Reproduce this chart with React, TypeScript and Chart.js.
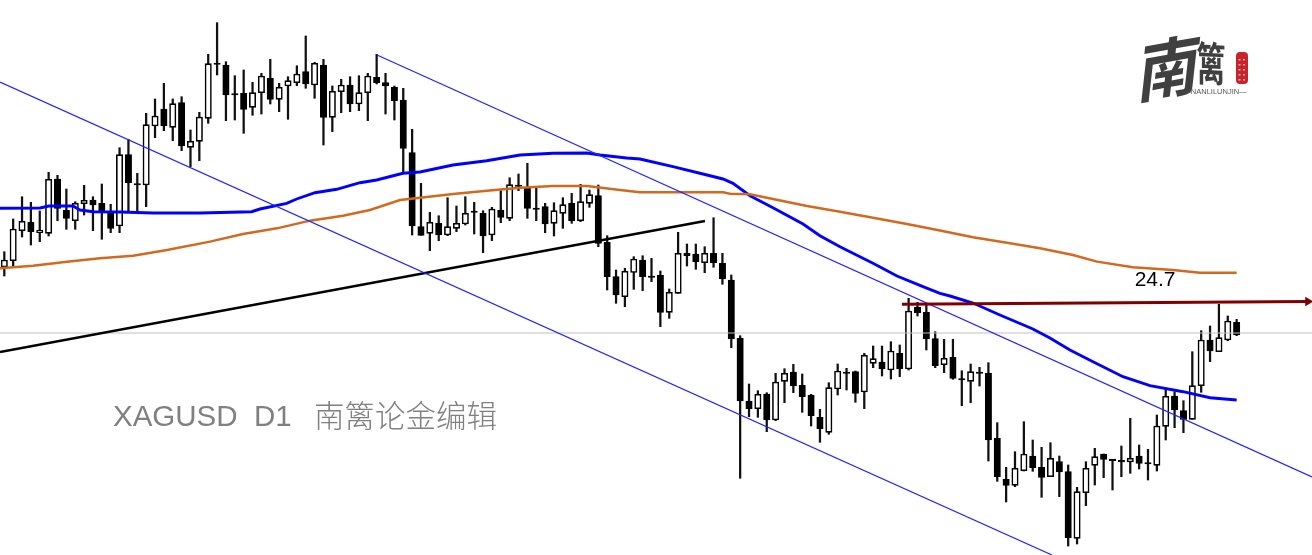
import React, { useEffect, useRef } from "react";
import { Chart, registerables } from "chart.js";

Chart.register(...registerables);

// Daily XAGUSD candles, one entry per session
const opens = [
  25.04,25.103,25.403,25.487,25.383,25.377,25.92,25.61,25.503,25.673,
  25.71,25.677,25.583,25.45,26.163,25.875,25.86,26.45,26.62,26.437,
  26.683,26.237,26.297,26.527,27.08,27.06,26.775,26.777,26.637,26.783,
  26.927,26.717,26.85,26.883,26.993,26.86,27.06,26.537,26.793,26.86,
  26.67,26.783,26.937,26.883,26.837,26.71,26.183,25.443,25.377,25.477,
  25.36,25.427,25.47,25.6,25.577,25.36,25.61,25.527,25.86,25.827,
  25.63,25.643,25.477,25.577,25.677,25.503,25.677,25.753,25.287,24.943,
  24.743,24.985,25.11,24.95,24.957,24.587,24.777,25.177,25.17,25.083,
  25.177,25.077,24.91,24.327,23.7,23.623,23.77,23.51,23.897,23.99,
  23.857,23.757,23.537,23.387,23.82,23.99,23.993,23.79,24.077,24.09,
  24.01,24.177,24.02,24.637,24.587,24.323,24.063,24.137,23.925,23.897,
  23.99,23.98,23.327,22.917,22.857,23.003,23.15,23.037,22.943,23.093,
  22.993,22.327,22.783,23.057,23.17,23.118,23.107,23.09,23.15,23.085,
  23.057,23.447,23.75,23.603,23.517,23.853,24.31,24.193,24.31,24.487,
];
const highs = [
  25.193,25.52,25.743,25.687,25.6,25.987,25.957,25.82,25.693,25.857,
  25.743,25.87,25.667,26.233,26.317,25.977,26.577,26.72,26.877,26.72,
  26.743,26.41,26.587,27.167,27.483,27.093,26.953,27.01,26.887,26.977,
  27.117,26.877,26.943,27.053,27.35,27.087,27.117,26.85,26.917,26.943,
  26.953,26.977,27.167,26.977,26.85,26.827,26.417,25.877,25.587,25.553,
  25.733,25.65,25.743,25.687,25.603,25.637,25.803,25.933,25.97,26.077,
  25.827,25.677,25.683,25.733,25.777,25.867,25.81,25.86,25.353,25.01,
  25.027,25.143,25.153,25.127,25.0,24.82,25.387,25.27,25.27,25.243,
  25.533,25.177,24.96,24.353,23.87,23.803,23.783,23.977,24.023,24.067,
  23.97,23.767,23.617,23.883,24.07,24.027,24.0,24.177,24.25,24.25,
  24.293,24.26,24.727,24.687,24.67,24.393,24.317,24.317,24.003,24.07,
  24.037,24.083,23.483,23.037,23.193,23.493,23.31,23.237,23.283,23.15,
  23.06,22.837,23.093,23.227,23.17,23.117,23.25,23.527,23.26,23.217,
  23.56,23.817,23.793,23.703,24.193,24.403,24.45,24.667,24.55,24.517,
];
const lows = [
  24.95,25.04,25.34,25.26,25.293,25.35,25.503,25.417,25.417,25.56,
  25.403,25.317,25.383,25.383,25.583,25.593,25.643,26.333,26.403,26.303,
  26.203,26.043,26.103,26.477,26.96,26.503,26.51,26.377,26.557,26.57,
  26.67,26.593,26.517,26.853,26.827,26.727,26.26,26.393,26.583,26.593,
  26.603,26.503,26.87,26.57,26.51,25.977,25.36,25.357,25.203,25.303,
  25.353,25.393,25.46,25.37,25.183,25.303,25.483,25.503,25.803,25.527,
  25.503,25.383,25.35,25.427,25.477,25.493,25.637,25.243,24.81,24.677,
  24.643,24.817,24.803,24.894,24.443,24.527,24.777,25.05,25.017,24.983,
  25.037,24.867,24.233,22.927,23.543,23.537,23.393,23.503,23.683,23.783,
  23.587,23.45,23.287,23.367,23.76,23.81,23.687,23.623,24.033,23.95,
  23.92,23.943,24.01,24.55,24.21,24.033,23.983,23.917,23.653,23.683,
  23.85,23.1,22.897,22.69,22.843,23.0,22.997,22.737,22.943,22.743,
  22.25,22.27,22.653,22.86,22.933,22.81,22.943,22.977,23.02,22.91,
  23.0,23.31,23.433,23.383,23.517,23.787,24.093,24.193,24.303,24.353,
];
const closes = [
  25.11,25.42,25.497,25.393,25.41,25.917,25.627,25.527,25.677,25.707,
  25.66,25.593,25.427,26.163,25.883,25.86,26.463,26.55,26.45,26.673,
  26.25,26.297,26.54,27.073,27.065,26.76,26.76,26.617,26.783,26.95,
  26.717,26.837,26.903,26.97,26.87,27.077,26.537,26.797,26.86,26.67,
  26.783,26.95,26.883,26.85,26.703,26.227,25.45,25.357,25.487,25.36,
  25.443,25.477,25.577,25.585,25.35,25.62,25.537,25.863,25.845,25.627,
  25.615,25.47,25.603,25.663,25.503,25.693,25.763,25.277,24.943,24.76,
  24.997,25.12,24.943,24.935,24.587,24.787,25.177,25.153,25.093,25.177,
  25.083,24.92,24.32,23.7,23.623,23.767,23.51,23.89,23.977,23.85,
  23.743,23.553,23.423,23.833,24.0,23.975,23.777,24.157,24.123,24.02,
  24.2,24.02,24.6,24.583,24.32,24.053,24.127,23.927,23.91,23.993,
  23.975,23.31,22.943,22.857,23.027,23.17,23.033,22.937,23.127,22.99,
  22.333,22.793,23.027,23.143,23.117,23.103,23.092,23.127,23.077,23.07,
  23.45,23.747,23.61,23.517,23.853,24.31,24.2,24.333,24.5,24.36,
];

// Fast moving average (blue): session index / price pairs
const blueMaSessions = [
  -0.49,4.03,5.04,7.75,8.54,10,13.05,16.77,22.07,27.9,28.84,31.85,32.98,35.04,37.49,40.12,42,44.97,
  46.89,50.61,54.41,58.17,61.89,65.69,67.19,70.2,71.7,75.42,79.26,81.06,82.19,84.11,86.7,90.09,92,
  94.26,97.98,100.69,103.62,105.54,106.67,109.26,112.3,116.02,117.94,120.2,122.8,126.18,129.23,132.95,136,139,
];
const blueMaValues = [
  25.627,25.63,25.65,25.65,25.61,25.593,25.59,25.58,25.58,25.593,25.62,25.677,25.72,25.783,25.817,25.883,25.91,25.977,
  25.99,26.06,26.103,26.16,26.177,26.18,26.16,26.13,26.12,26.043,25.96,25.92,25.877,25.753,25.633,25.47,25.353,
  25.243,25.077,24.95,24.843,24.777,24.75,24.68,24.56,24.42,24.33,24.21,24.093,23.943,23.853,23.793,23.733,23.71,
];

// Slow moving average (orange)
const orangeMaSessions = [
  -0.49,3.24,7.07,10.79,14.52,18.35,23.2,26.92,30.76,34.48,38.2,41.25,44.63,46.89,50.61,54.44,58.17,61.89,65.72,
  69.45,71.7,81.06,81.85,84.11,86.7,90.54,94.26,97.98,101.81,105.54,109.26,113.09,116.82,120.54,123.25,127.31,131.82,134.86,139,
];
const orangeMaValues = [
  25.027,25.053,25.093,25.127,25.153,25.21,25.293,25.37,25.427,25.503,25.553,25.61,25.71,25.733,25.77,25.803,25.833,25.85,25.85,
  25.81,25.787,25.787,25.773,25.767,25.72,25.65,25.593,25.533,25.47,25.405,25.337,25.283,25.227,25.16,25.093,25.037,25.01,24.983,24.983,
];

// Hand-drawn chart objects: [session, price] end points
const channelLower = [[-0.485, 26.89], [118.17, 22.16]];
const channelUpper = [[42.04, 27.16], [147.5, 22.94]];
const supportLine = [[-0.485, 24.19], [79.03, 25.5]];
const resistanceArrow = [[101.25, 24.667], [147.05, 24.695]];
const bidLine = [[-0.485, 24.38], [147.5, 24.38]];

const resistanceLabel = "24.7";
const watermarkLatin = "XAGUSD  D1";
const watermarkCjk = "南篱论金编辑";
const logoLeft = "南";
const logoRight = "篱";
const logoCaption = "—NANLILUNJIN—";

const LATIN = '"Liberation Sans", Arial, sans-serif';
const CJK = '"Noto Sans CJK SC", sans-serif';

const pairs = (rows: number[][]) => rows.map(([x, y]) => ({ x, y }));

const overlayText = {
  id: "overlayText",
  afterDatasetsDraw(chart: any) {
    const { ctx, scales } = chart;
    ctx.save();
    ctx.textBaseline = "alphabetic";

    ctx.fillStyle = "#000";
    ctx.font = `21px ${LATIN}`;
    ctx.textAlign = "center";
    ctx.fillText(resistanceLabel, scales.x.getPixelForValue(129.8), scales.y.getPixelForValue(24.85));

    ctx.fillStyle = "#808080";
    ctx.textAlign = "left";
    ctx.font = `29.5px ${LATIN}`;
    ctx.fillText(watermarkLatin, 113, 426);
    ctx.font = `300 30.5px ${CJK}`;
    ctx.fillText(watermarkCjk, 314, 427);

    // logo
    ctx.fillStyle = "#404040";
    ctx.textAlign = "center";
    ctx.save();
    ctx.translate(1167, 93);
    ctx.transform(1, -0.18, -0.12, 1.08, 0, 0);
    ctx.font = `700 62px ${CJK}`;
    ctx.fillText(logoLeft, 0, 0);
    ctx.restore();
    ctx.save();
    ctx.translate(1211, 81);
    ctx.transform(0.82, 0.04, 0, 1.28, 0, 0);
    ctx.font = `700 36px ${CJK}`;
    ctx.fillText(logoRight, 0, 0);
    ctx.restore();
    ctx.fillStyle = "#c8232c";
    ctx.beginPath();
    ctx.roundRect(1236, 52, 12, 32, 4);
    ctx.fill();
    ctx.fillStyle = "#f0b0b0";
    [59, 64, 69, 74, 79].forEach((y) => {
      ctx.fillRect(1238.5, y, 2, 1.5);
      ctx.fillRect(1243, y, 2, 1.5);
    });
    ctx.fillStyle = "#555";
    ctx.font = `7.5px ${LATIN}`;
    ctx.fillText(logoCaption, 1215, 94);
    ctx.restore();
  },
};

export default function App() {
  const ref = useRef<HTMLCanvasElement | null>(null);

  useEffect(() => {
    document.body.style.margin = "0";
    const sessions = opens.map((_, i) => i);
    const chart = new Chart(ref.current as HTMLCanvasElement, {
      type: "bar",
      data: {
        datasets: [
          {
            label: "Range",
            data: sessions.map((i) => ({ x: i, y: [lows[i], highs[i]] })) as any,
            backgroundColor: "#111111",
            barThickness: 1.6,
            grouped: false,
            order: 5,
          },
          {
            label: "Body",
            data: sessions.map((i) => ({ x: i, y: [opens[i], closes[i]] })) as any,
            backgroundColor: sessions.map((i) => (closes[i] >= opens[i] ? "#ffffff" : "#000000")),
            borderColor: "#000000",
            borderWidth: 1.6,
            borderSkipped: false,
            barThickness: 6.4,
            grouped: false,
            order: 4,
          },
          {
            type: "line",
            label: "Bid",
            data: pairs(bidLine),
            borderColor: "#c0c0c0",
            borderWidth: 1,
            pointRadius: 0,
            order: 3,
          },
          {
            type: "line",
            label: "MA slow",
            data: orangeMaSessions.map((x, i) => ({ x, y: orangeMaValues[i] })),
            borderColor: "#d2691e",
            borderWidth: 2.4,
            pointRadius: 0,
            tension: 0,
            order: 2,
          },
          {
            type: "line",
            label: "MA fast",
            data: blueMaSessions.map((x, i) => ({ x, y: blueMaValues[i] })),
            borderColor: "#0000ff",
            borderWidth: 2.9,
            pointRadius: 0,
            tension: 0,
            order: 2,
          },
          {
            type: "line",
            label: "Channel lower",
            data: pairs(channelLower),
            borderColor: "#2020ff",
            borderWidth: 1.2,
            pointRadius: 0,
            order: 1,
          },
          {
            type: "line",
            label: "Channel upper",
            data: pairs(channelUpper),
            borderColor: "#2020ff",
            borderWidth: 1.2,
            pointRadius: 0,
            order: 1,
          },
          {
            type: "line",
            label: "Support",
            data: pairs(supportLine),
            borderColor: "#000000",
            borderWidth: 2.6,
            pointRadius: 0,
            order: 1,
          },
          {
            type: "line",
            label: "Resistance",
            data: pairs(resistanceArrow),
            borderColor: "#800000",
            backgroundColor: "#800000",
            borderWidth: 3,
            pointRadius: [0, 5.5],
            pointStyle: "triangle",
            pointRotation: 90,
            pointBorderWidth: 0,
            order: 0,
          },
        ] as any,
      },
      options: {
        animation: false,
        responsive: false,
        devicePixelRatio: 1,
        layout: { padding: 0, autoPadding: false },
        plugins: { legend: { display: false }, tooltip: { enabled: false } },
        scales: {
          x: { type: "linear", display: false, min: -0.485, max: 147.5, offset: false, grid: { display: false } },
          y: { type: "linear", display: false, min: 22.16, max: 27.71, grid: { display: false } },
        },
      },
      plugins: [overlayText],
    } as any);
    return () => chart.destroy();
  }, []);

  return (
    <div style={{ position: "fixed", left: 0, top: 0, width: 1312, height: 555, background: "#fff" }}>
      <canvas ref={ref} width={1312} height={555} style={{ display: "block" }} />
    </div>
  );
}
